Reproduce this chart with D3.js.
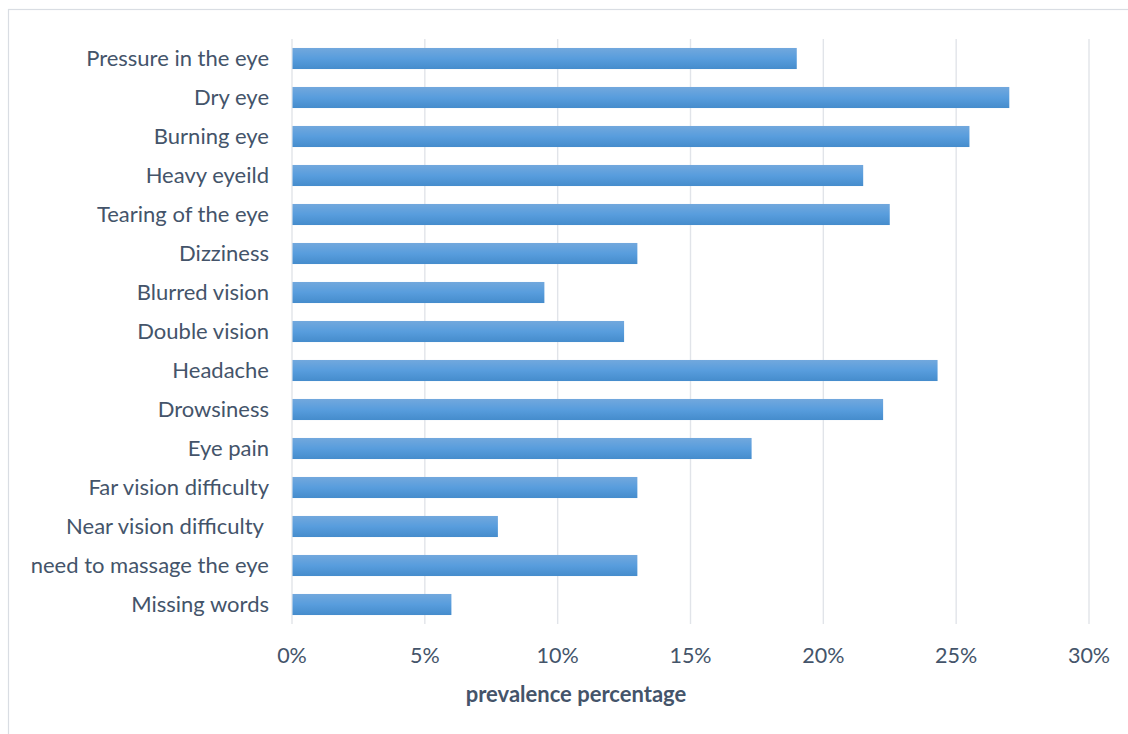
<!DOCTYPE html>
<html>
<head>
<meta charset="utf-8">
<script src="https://cdn.jsdelivr.net/npm/d3@7"></script>
<style>
  body { margin: 0; background: #fff; }
  svg text { font-family: Lato, "Open Sans", sans-serif; fill: #44546a; white-space: pre; }
</style>
</head>
<body>
<div id="chart"></div>
<script>
const symptoms = [
  "Pressure in the eye", "Dry eye", "Burning eye", "Heavy eyeild",
  "Tearing of the eye", "Dizziness", "Blurred vision", "Double vision",
  "Headache", "Drowsiness", "Eye pain", "Far vision difficulty",
  "Near vision difficulty ", "need to massage the eye", "Missing words"
];
const prevalence = [19, 27, 25.5, 21.5, 22.5, 13, 9.5, 12.5, 24.3, 22.25, 17.3, 13, 7.75, 13, 6];
const ticks = [0, 5, 10, 15, 20, 25, 30];
const axisTitle = "prevalence percentage";

const width = 1128;
const height = 734;
const margin = { top: 39, left: 292, right: 39, bottom: 110 };

const svg = d3.select("#chart")
  .append("svg")
  .attr("width", width)
  .attr("height", height);

// chart border
svg.append("rect")
  .attr("x", 8.5)
  .attr("y", 9.5)
  .attr("width", width + 10)
  .attr("height", height + 10)
  .attr("fill", "none")
  .attr("stroke", "#d9dde3")
  .attr("stroke-width", 1.2);

// bar gradient
const grad = svg.append("defs")
  .append("linearGradient")
  .attr("id", "barGrad")
  .attr("x1", 0).attr("y1", 0).attr("x2", 0).attr("y2", 1);
grad.append("stop").attr("offset", "0%").attr("stop-color", "#72a8dd");
grad.append("stop").attr("offset", "50%").attr("stop-color", "#589ddd");
grad.append("stop").attr("offset", "100%").attr("stop-color", "#458ccc");

const x = d3.scaleLinear()
  .domain([0, 30])
  .range([margin.left, width - margin.right]);

const y = d3.scaleBand()
  .domain(symptoms)
  .range([margin.top, height - margin.bottom])
  .paddingInner(0.46)
  .paddingOuter(0.23);

// gridlines
svg.append("g")
  .selectAll("line")
  .data(ticks)
  .enter()
  .append("line")
  .attr("x1", (d) => x(d))
  .attr("x2", (d) => x(d))
  .attr("y1", margin.top)
  .attr("y2", height - margin.bottom)
  .attr("stroke", "#e1e4e9")
  .attr("stroke-width", 1.4);

// bars
svg.append("g")
  .selectAll("rect")
  .data(symptoms)
  .enter()
  .append("rect")
  .attr("x", x(0) + 0.5)
  .attr("y", (d) => y(d))
  .attr("width", (d, i) => x(prevalence[i]) - x(0) - 0.5)
  .attr("height", y.bandwidth())
  .attr("fill", "url(#barGrad)");

// category labels
svg.append("g")
  .selectAll("text")
  .data(symptoms)
  .enter()
  .append("text")
  .attr("x", x(0) - 23)
  .attr("y", (d) => y(d) + y.bandwidth() / 2)
  .attr("dy", "0.33em")
  .attr("text-anchor", "end")
  .style("font-size", "22px")
  .text((d) => d);

// tick labels
svg.append("g")
  .selectAll("text")
  .data(ticks)
  .enter()
  .append("text")
  .attr("x", (d) => x(d))
  .attr("y", 663)
  .attr("text-anchor", "middle")
  .style("font-size", "21.5px")
  .text((d) => d + "%");

// axis title
svg.append("text")
  .attr("x", 576)
  .attr("y", 702)
  .attr("text-anchor", "middle")
  .style("font-size", "22px")
  .style("font-weight", "bold")
  .text(axisTitle);
</script>
</body>
</html>
